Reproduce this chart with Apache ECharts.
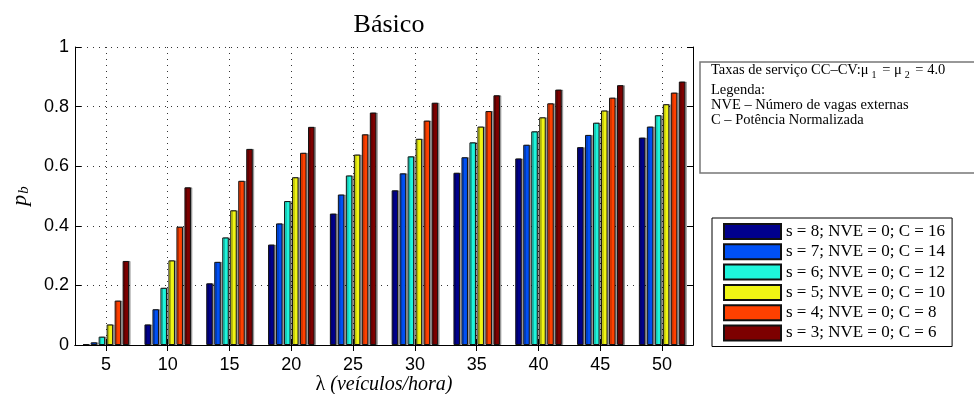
<!DOCTYPE html>
<html>
<head>
<meta charset="utf-8">
<script src="https://cdn.jsdelivr.net/npm/echarts@6/dist/echarts.min.js"></script>
<style>
  html, body { margin: 0; padding: 0; background: #fff; }
  #chart { width: 974px; height: 394px; }
</style>
</head>
<body>
<div id="chart"></div>
<script>
// Arrival rate λ (vehicles per hour)
const lambdaTicks = ['5', '10', '15', '20', '25', '30', '35', '40', '45', '50'];
const yTicks = [0, 0.2, 0.4, 0.6, 0.8, 1];

// Blocking probability p_b for each configuration
const s8 = [0.003, 0.069, 0.207, 0.337, 0.441, 0.519, 0.578, 0.626, 0.664, 0.696];
const s7 = [0.009, 0.120, 0.279, 0.408, 0.505, 0.576, 0.630, 0.672, 0.705, 0.733];
const s6 = [0.028, 0.192, 0.361, 0.483, 0.569, 0.633, 0.680, 0.717, 0.746, 0.771];
const s5 = [0.069, 0.284, 0.452, 0.563, 0.639, 0.692, 0.733, 0.764, 0.787, 0.808];
const s4 = [0.149, 0.397, 0.551, 0.645, 0.707, 0.753, 0.785, 0.811, 0.830, 0.847];
const s3 = [0.282, 0.529, 0.658, 0.732, 0.780, 0.813, 0.838, 0.857, 0.872, 0.884];

const seriesNames = [
  's = 8; NVE = 0; C = 16',
  's = 7; NVE = 0; C = 14',
  's = 6; NVE = 0; C = 12',
  's = 5; NVE = 0; C = 10',
  's = 4; NVE = 0; C = 8',
  's = 3; NVE = 0; C = 6'
];
const seriesValues = [s8, s7, s6, s5, s4, s3];
const seriesColors = ['#00008c', '#0050f5', '#1ef5dc', '#f0f514', '#ff4000', '#7d0000'];

const SANS = '"Liberation Sans", Arial, sans-serif';
const SERIF = '"Liberation Serif", "Times New Roman", serif';

const gridDots = { show: true, lineStyle: { color: '#333', width: 1, type: [1, 5] } };

const chart = echarts.init(document.getElementById('chart'), null, { renderer: 'canvas' });

chart.setOption({
  animation: false,
  backgroundColor: '#fff',
  title: {
    text: 'Básico',
    left: 384,
    textAlign: 'center',
    top: 7,
    textStyle: { fontFamily: SERIF, fontSize: 26, fontWeight: 'normal', color: '#000' }
  },
  grid: { left: 75, right: 281, top: 47, bottom: 49, containLabel: false, outerBoundsMode: 'none' },
  legend: {
    orient: 'vertical',
    left: 712,
    top: 218,
    padding: [5, 7, 5, 11],
    backgroundColor: '#fff',
    borderColor: '#000',
    borderWidth: 1,
    borderRadius: 0,
    itemWidth: 57,
    itemHeight: 15,
    itemGap: 3.3,
    icon: 'rect',
    textStyle: { fontFamily: SERIF, fontSize: 17, color: '#000', lineHeight: 17 },
    data: seriesNames
  },
  xAxis: [
    {
      type: 'category',
      data: lambdaTicks,
      position: 'bottom',
      axisLine: { show: true, lineStyle: { color: '#000', width: 1 } },
      axisTick: { show: true, inside: true, length: 6, alignWithLabel: true, lineStyle: { color: '#000' } },
      axisLabel: { fontFamily: SANS, fontSize: 18, color: '#000', margin: 11 },
      splitLine: Object.assign({ alignWithLabel: true }, gridDots),
      name: '{l|λ}{i| (veículos/hora)}',
      nameLocation: 'middle',
      nameGap: 30,
      nameMoveOverlap: false,
      nameTextStyle: {
        rich: {
          l: { fontFamily: SERIF, fontSize: 20, color: '#000' },
          i: { fontFamily: SERIF, fontSize: 20, fontStyle: 'italic', color: '#000' }
        }
      }
    },
    {
      type: 'category',
      data: lambdaTicks,
      position: 'top',
      axisLine: { show: true, lineStyle: { color: '#000', width: 1 } },
      axisTick: { show: true, inside: true, length: 6, alignWithLabel: true, lineStyle: { color: '#000' } },
      axisLabel: { show: false },
      splitLine: { show: false }
    }
  ],
  yAxis: [
    {
      type: 'value',
      min: yTicks[0],
      max: yTicks[yTicks.length - 1],
      interval: 0.2,
      position: 'left',
      axisLine: { show: true, lineStyle: { color: '#000', width: 1 } },
      axisTick: { show: true, inside: true, length: 6, lineStyle: { color: '#000' } },
      axisLabel: { fontFamily: SANS, fontSize: 18, color: '#000', margin: 6 },
      splitLine: gridDots,
      name: '{p|p}{b|b}',
      nameLocation: 'middle',
      nameGap: 43,
      nameRotate: 90,
      nameTextStyle: {
        rich: {
          p: { fontFamily: SERIF, fontSize: 22, fontStyle: 'italic', color: '#000' },
          b: { fontFamily: SERIF, fontSize: 15, fontStyle: 'italic', color: '#000', padding: [9, 0, 0, 1] }
        }
      }
    },
    {
      type: 'value',
      min: yTicks[0],
      max: yTicks[yTicks.length - 1],
      interval: 0.2,
      position: 'right',
      axisLine: { show: true, lineStyle: { color: '#000', width: 1 } },
      axisTick: { show: true, inside: true, length: 6, lineStyle: { color: '#000' } },
      axisLabel: { show: false },
      splitLine: { show: false }
    }
  ],
  series: seriesNames.map((name, i) => ({
    name: name,
    type: 'bar',
    xAxisIndex: 0,
    yAxisIndex: 0,
    data: seriesValues[i],
    barWidth: 6.5,
    barGap: '23%',
    itemStyle: {
      color: seriesColors[i],
      borderColor: '#111',
      borderWidth: 1,
      shadowColor: 'rgba(0,0,0,0.3)',
      shadowOffsetX: 1.5,
      shadowBlur: 0
    },
    emphasis: { disabled: true }
  })),
  graphic: [
    {
      type: 'rect',
      x: 700,
      y: 62,
      shape: { x: 0, y: 0, width: 300, height: 111 },
      style: { fill: '#fff', stroke: '#777', lineWidth: 1.5 }
    },
    {
      type: 'text',
      x: 711,
      y: 70,
      style: {
        text: '{t|Taxas de serviço CC–CV:μ}{s|1}{t| = μ}{s|2}{t| = 4.0}',
        font: '14.5px ' + SERIF,
        fill: '#000',
        verticalAlign: 'middle',
        align: 'left',
        rich: {
          t: { fontFamily: SERIF, fontSize: 14.5, fill: '#000' },
          s: { fontFamily: SERIF, fontSize: 10, fill: '#000', padding: [11, 2, 0, 3] }
        }
      }
    },
    {
      type: 'text', x: 711, y: 90,
      style: { text: 'Legenda:', font: '14.5px ' + SERIF, fill: '#000', verticalAlign: 'middle', align: 'left' }
    },
    {
      type: 'text', x: 711, y: 105,
      style: { text: 'NVE – Número de vagas externas', font: '14.5px ' + SERIF, fill: '#000', verticalAlign: 'middle', align: 'left' }
    },
    {
      type: 'text', x: 711, y: 120,
      style: { text: 'C – Potência Normalizada', font: '14.5px ' + SERIF, fill: '#000', verticalAlign: 'middle', align: 'left' }
    }
  ]
});
</script>
</body>
</html>
